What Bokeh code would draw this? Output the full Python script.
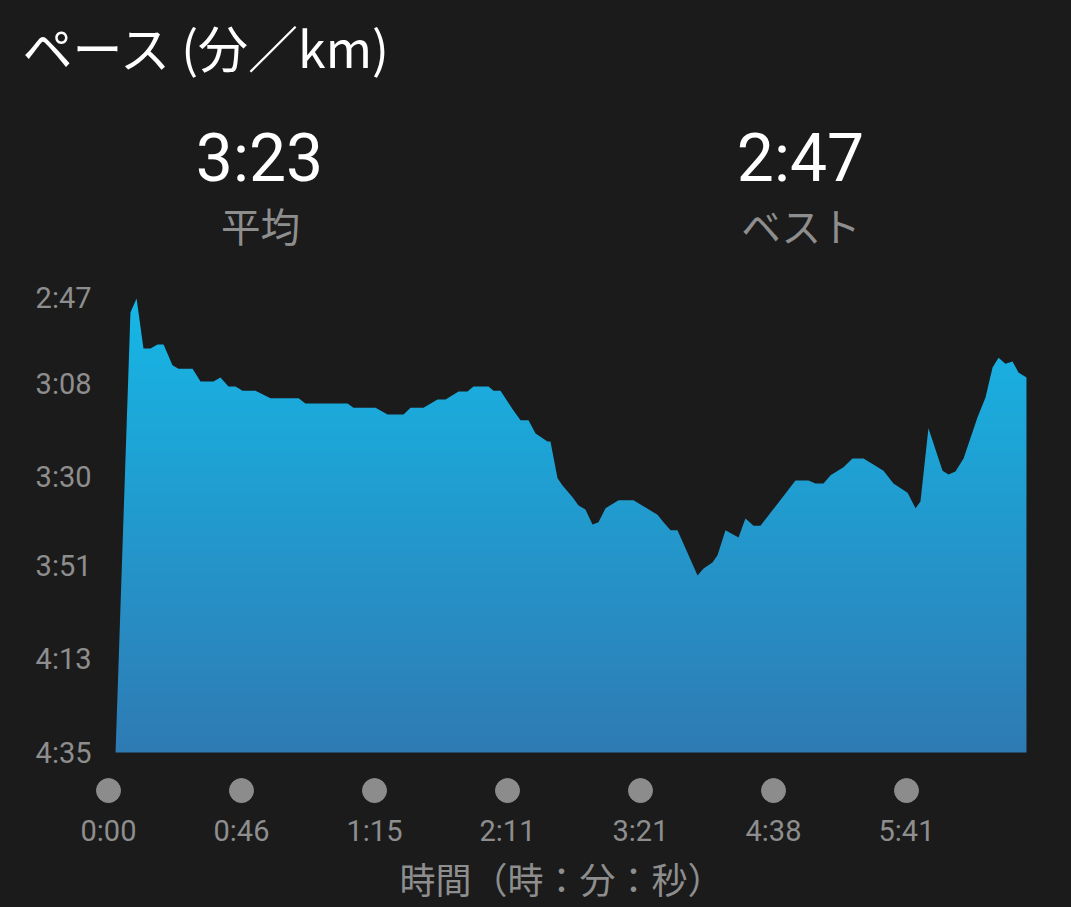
import numpy as np
from bokeh.plotting import figure
from bokeh.layouts import column
from bokeh.models import Range1d, FixedTicker
from bokeh.core.properties import value
from bokeh.embed import file_html
from bokeh.resources import INLINE

# ---- data ----
position = [0.053, 0.165, 0.211, 0.263, 0.316, 0.368, 0.414, 0.481, 0.526, 0.632,
            0.692, 0.789, 0.842, 0.902, 0.955, 1.008, 1.105, 1.218, 1.429, 1.481,
            1.797, 1.842, 2.008, 2.098, 2.218, 2.271, 2.368, 2.474, 2.534, 2.632,
            2.699, 2.744, 2.857, 2.895, 2.947, 3.045, 3.098, 3.158, 3.211, 3.301,
            3.323, 3.376, 3.414, 3.489, 3.534, 3.586, 3.639, 3.684, 3.737, 3.835,
            3.947, 4.128, 4.173, 4.226, 4.278, 4.429, 4.474, 4.541, 4.579, 4.639,
            4.737, 4.789, 4.850, 4.902, 5.038, 5.165, 5.263, 5.316, 5.376, 5.429,
            5.526, 5.594, 5.677, 5.729, 5.827, 5.902, 6.008, 6.068, 6.105, 6.165,
            6.271, 6.316, 6.368, 6.429, 6.534, 6.594, 6.647, 6.692, 6.744, 6.797,
            6.842, 6.902]
pace_sec = [275.0, 171.0, 167.7, 179.5, 179.5, 178.6, 178.6, 183.5, 184.3, 184.3,
            187.3, 187.3, 186.4, 188.5, 188.5, 189.5, 189.5, 191.3, 191.3, 192.5,
            192.5, 193.5, 193.5, 195.1, 195.1, 193.5, 193.5, 191.6, 191.6, 189.7,
            189.7, 188.5, 188.5, 189.5, 189.5, 194.2, 196.5, 196.5, 199.6, 201.5,
            201.5, 210.2, 211.9, 214.7, 216.6, 217.6, 221.1, 220.6, 217.3, 215.4,
            215.4, 218.8, 220.6, 222.5, 222.5, 233.2, 231.5, 230.1, 228.4, 222.5,
            224.2, 219.7, 221.4, 221.4, 215.9, 210.7, 210.7, 211.4, 211.4, 209.5,
            207.6, 205.5, 205.5, 206.5, 208.4, 211.4, 213.6, 217.3, 215.7, 198.4,
            208.4, 209.3, 208.6, 205.5, 195.8, 191.1, 184.0, 181.7, 183.1, 182.6,
            185.2, 186.4]

time_ticks = [0, 1, 2, 3, 4, 5, 6]
time_labels = ["0:00", "0:46", "1:15", "2:11", "3:21", "4:38", "5:41"]
pace_ticks = [167, 188, 210, 231, 253, 275]
pace_labels = ["2:47", "3:08", "3:30", "3:51", "4:13", "4:35"]

title_text = "ペース (分／km)"
avg_value, avg_caption = "3:23", "平均"
best_value, best_caption = "2:47", "ベスト"
x_axis_title = "時間（時：分：秒）"

# ---- style ----
BG = "#1b1b1b"
GREY = "#8e8e8e"
TOP_RGB = np.array([22, 184, 231], dtype=float)
BOT_RGB = np.array([47, 123, 180], dtype=float)
W, H_TOP, H_MAIN = 1071, 280, 627

Y_TOP, Y_BOT = 163.455, 287.525
X_MIN, X_MAX = -0.1203, 6.9323

# ---- header figure (title + summary numbers) ----
top = figure(frame_width=W, frame_height=H_TOP, output_backend="svg",
             toolbar_location=None, title=None,
             x_range=Range1d(0, W), y_range=Range1d(H_TOP, 0),
             min_border=0, background_fill_color=BG, border_fill_color=BG,
             outline_line_color=None)
top.frame_align = False
top.axis.visible = False
top.grid.visible = False
top.text(x=[22], y=[45], text=[title_text], text_font=value("Noto Sans CJK JP"),
         text_font_size="50px", text_color="#ffffff", text_align="left",
         text_baseline="middle")
top.text(x=[259, 800], y=[158, 158], text=[avg_value, best_value],
         text_font=value("Roboto"), text_font_size="66px", text_color="#ffffff",
         text_align="center", text_baseline="middle")
top.text(x=[260, 800], y=[224, 224], text=[avg_caption, best_caption],
         text_font=value("Noto Sans CJK JP"), text_font_size="39.5px", text_color=GREY,
         text_align="center", text_baseline="middle")

# ---- main chart ----
p = figure(width=W, height=H_MAIN, output_backend="svg", toolbar_location=None,
           title=None,
           x_range=Range1d(X_MIN, X_MAX), y_range=Range1d(Y_BOT, Y_TOP),
           min_border_left=92, min_border_right=41, min_border_top=0,
           min_border_bottom=102,
           background_fill_color=BG, border_fill_color=BG, outline_line_color=None)
p.frame_align = False
p.grid.visible = False

# gradient fill: vertical gradient image, masked above the pace curve
base = pace_ticks[-1]
img_top = 165.0
N = 400
img = np.empty((N, 2), dtype=np.uint32)
view = img.view(dtype=np.uint8).reshape((N, 2, 4))
dh = base - img_top
for i in range(N):
    val = img_top + (i + 0.5) * dh / N
    t = min(max((val - pace_ticks[0]) / (base - pace_ticks[0]), 0.0), 1.0)
    c = TOP_RGB * (1 - t) + BOT_RGB * t
    view[i, :, 0] = int(c[0]); view[i, :, 1] = int(c[1]); view[i, :, 2] = int(c[2])
    view[i, :, 3] = 255
pad = 0.02
p.image_rgba(image=[img], x=position[0] - pad, y=img_top,
             dw=position[-1] - position[0] + 2 * pad, dh=dh)

far_low = Y_BOT + 5
mask_x = [X_MIN - 1, position[0], position[0]] + position[1:] + [position[-1], X_MAX + 1]
mask_y = [far_low, far_low, pace_sec[0]] + pace_sec[1:] + [far_low, far_low]
p.varea(x=mask_x, y1=mask_y, y2=[Y_TOP - 5] * len(mask_x), fill_color=BG)

# dots row
p.scatter(time_ticks, [284.0] * len(time_ticks), size=24, color="#8c8c8c")

# axes
p.yaxis.ticker = FixedTicker(ticks=pace_ticks)
p.yaxis.major_label_overrides = {t: l for t, l in zip(pace_ticks, pace_labels)}
p.xaxis.ticker = FixedTicker(ticks=time_ticks)
p.xaxis.major_label_overrides = {t: l for t, l in zip(time_ticks, time_labels)}
for ax in (p.xaxis, p.yaxis):
    ax.axis_line_color = None
    ax.major_tick_line_color = None
    ax.minor_tick_line_color = None
    ax.major_tick_in = 0
    ax.major_tick_out = 0
    ax.major_label_text_font = "Roboto"
    ax.major_label_text_font_size = "29px"
    ax.major_label_text_color = GREY
p.yaxis.major_label_standoff = 1
p.xaxis.major_label_standoff = 8
p.xaxis.axis_label = x_axis_title
p.xaxis.axis_label_text_font = "Noto Sans CJK JP"
p.xaxis.axis_label_text_font_size = "36px"
p.xaxis.axis_label_text_font_style = "normal"
p.xaxis.axis_label_text_color = GREY
p.xaxis.axis_label_standoff = 1

layout = column(top, p, spacing=0, styles={"background-color": BG})
html = file_html(layout, INLINE)
html = html.replace("</head>", "<style>html,body{background:#1b1b1b;}</style></head>", 1)
open("out.html", "w").write(html)
